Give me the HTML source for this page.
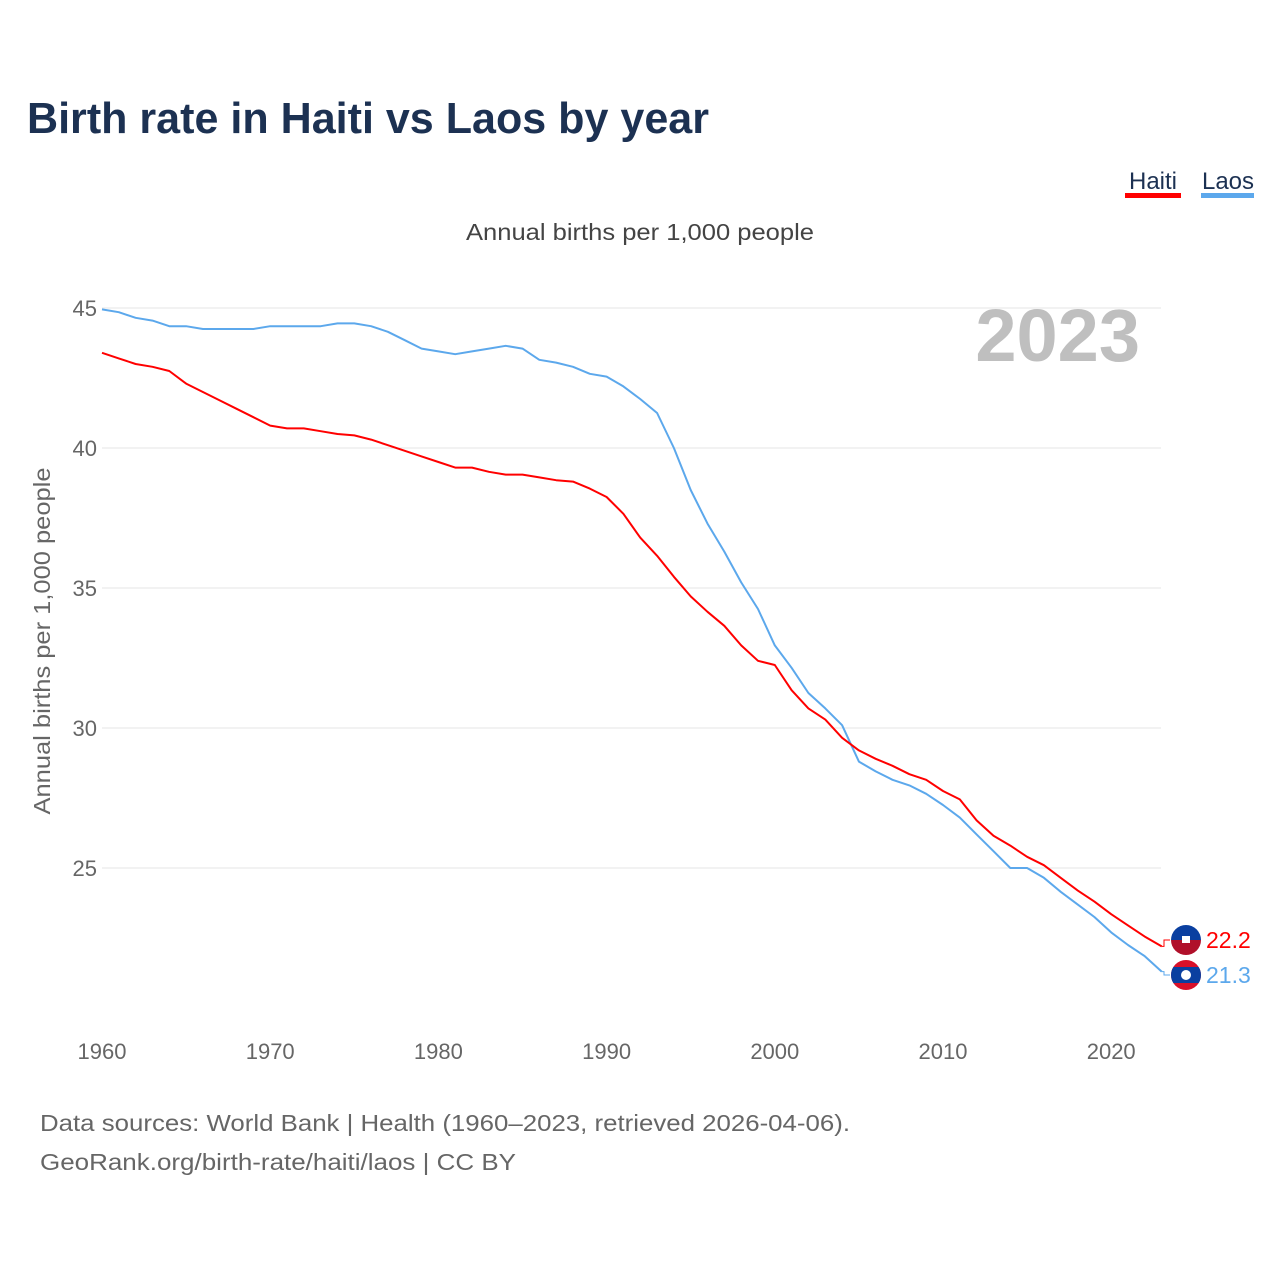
<!DOCTYPE html>
<html><head><meta charset="utf-8"><style>
body{margin:0;background:#fff;font-family:"Liberation Sans",sans-serif}
#wrap{position:relative;width:1280px;height:1280px;overflow:hidden}
</style></head><body>
<div id="wrap">
<svg id="chart" width="1280" height="1280"></svg>
</div>
<script>
const years=[];for(let y=1960;y<=2023;y++)years.push(y);
const haiti=[43.4,43.2,43.0,42.9,42.75,42.3,42.0,41.7,41.4,41.1,40.8,40.7,40.7,40.6,40.5,40.45,40.3,40.1,39.9,39.7,39.5,39.3,39.3,39.15,39.05,39.05,38.95,38.85,38.8,38.55,38.25,37.65,36.8,36.15,35.4,34.7,34.15,33.65,32.95,32.4,32.25,31.35,30.7,30.3,29.65,29.2,28.9,28.65,28.35,28.15,27.75,27.45,26.7,26.15,25.8,25.4,25.1,24.65,24.2,23.8,23.35,22.95,22.55,22.2];
const laos=[44.95,44.85,44.65,44.55,44.35,44.35,44.25,44.25,44.25,44.25,44.35,44.35,44.35,44.35,44.45,44.45,44.35,44.15,43.85,43.55,43.45,43.35,43.45,43.55,43.65,43.55,43.15,43.05,42.9,42.65,42.55,42.2,41.75,41.25,40.0,38.5,37.3,36.3,35.2,34.25,32.95,32.15,31.25,30.7,30.1,28.8,28.45,28.15,27.95,27.65,27.25,26.8,26.2,25.6,25.0,25.0,24.65,24.15,23.7,23.25,22.7,22.25,21.85,21.3];
const yTicks=[25,30,35,40,45];
const xTicks=[1960,1970,1980,1990,2000,2010,2020];
const X=y=>102+(y-1960)*16.82;
const Y=v=>308+(45-v)*28;
const NS='http://www.w3.org/2000/svg';
const svg=document.getElementById('chart');
function el(t,a,txt){const e=document.createElementNS(NS,t);for(const k in a)e.setAttribute(k,a[k]);if(txt!=null)e.textContent=txt;svg.appendChild(e);return e;}
let e;
e=el('text',{x:27,y:133,'font-size':44,'font-weight':'bold',fill:'#1c3152',textLength:682,lengthAdjust:'spacingAndGlyphs'},'Birth rate in Haiti vs Laos by year');


e=el('text',{x:466,y:240,'font-size':23,fill:'#444',textLength:348,lengthAdjust:'spacingAndGlyphs'},'Annual births per 1,000 people');


e=el('text',{x:1153,y:189,'font-size':24,fill:'#1c3152','text-anchor':'middle'},'Haiti');


el('rect',{x:1125,y:193,width:56,height:5,fill:'#ff0000'});
e=el('text',{x:1228,y:189,'font-size':24,fill:'#1c3152','text-anchor':'middle'},'Laos');


el('rect',{x:1201,y:193,width:53,height:5,fill:'#5ca8ec'});
yTicks.forEach(v=>{
 e=el('line',{x1:102,x2:1161,y1:Y(v),y2:Y(v),stroke:'#e6e6e6','stroke-width':1});
 
 
 e=el('text',{x:97,y:Y(v)+8,'font-size':22,fill:'#666','text-anchor':'end'},v);
 
 
});
xTicks.forEach(t=>{
 e=el('text',{x:X(t),y:1059,'font-size':22,fill:'#666','text-anchor':'middle'},t);
 
 
});
e=el('text',{x:0,y:0,'font-size':23,fill:'#666','text-anchor':'middle',textLength:347,lengthAdjust:'spacingAndGlyphs',transform:'translate(50,641) rotate(-90)'},'Annual births per 1,000 people');


e=el('text',{x:1140,y:361,'font-size':74,'font-weight':'bold',fill:'#bfbfbf','text-anchor':'end'},'2023');


function line(data,col,name){
 const d=data.map((v,i)=>(i?'L':'M')+X(years[i]).toFixed(1)+','+Y(v).toFixed(1)).join('');
 const p=el('path',{d:d,fill:'none',stroke:col,'stroke-width':2,'stroke-linejoin':'round'});
 
 
}
line(laos,'#5ca8ec','laos-line');
line(haiti,'#ff0000','haiti-line');
const hl=haiti[haiti.length-1],ll=laos[laos.length-1];
const hy=940,ly=975;
el('path',{d:`M${X(2023)},${Y(hl)}L1164,${Y(hl)}L1164,${hy}L1170,${hy}`,fill:'none',stroke:'#ff0000','stroke-width':1});
el('path',{d:`M${X(2023)},${Y(ll)}L1164,${Y(ll)}L1164,${ly}L1170,${ly}`,fill:'none',stroke:'#5ca8ec','stroke-width':1});
const defs=el('defs',{});
function flag(cy,kind){
 const id='c'+kind;
 const cp=document.createElementNS(NS,'clipPath');cp.setAttribute('id',id);
 const c=document.createElementNS(NS,'circle');c.setAttribute('cx',1186);c.setAttribute('cy',cy);c.setAttribute('r',15);cp.appendChild(c);defs.appendChild(cp);
 const g=el('g',{'clip-path':`url(#${id})`});
 
 
 const add=(a)=>{const r=document.createElementNS(NS,'rect');for(const k in a)r.setAttribute(k,a[k]);g.appendChild(r);};
 if(kind==='haiti'){add({x:1170,y:cy-15,width:32,height:15,fill:'#0a3fa0'});add({x:1170,y:cy,width:32,height:15,fill:'#b0102a'});add({x:1182,y:cy-4,width:8,height:7,fill:'#fff'});}
 else{add({x:1170,y:cy-15,width:32,height:30,fill:'#d8102a'});add({x:1170,y:cy-8,width:32,height:16,fill:'#0a3fa0'});const w=document.createElementNS(NS,'circle');w.setAttribute('cx',1186);w.setAttribute('cy',cy);w.setAttribute('r',5);w.setAttribute('fill','#fff');g.appendChild(w);}
}
flag(hy,'haiti');flag(ly,'laos');
e=el('text',{x:1206,y:hy+8,'font-size':23,fill:'#ff0000'},hl.toFixed(1));


e=el('text',{x:1206,y:ly+8,'font-size':23,fill:'#5ca8ec'},ll.toFixed(1));


e=el('text',{x:40,y:1131,'font-size':23,fill:'#666',textLength:810,lengthAdjust:'spacingAndGlyphs'},'Data sources: World Bank | Health (1960–2023, retrieved 2026-04-06).');


e=el('text',{x:40,y:1170,'font-size':23,fill:'#666',textLength:476,lengthAdjust:'spacingAndGlyphs'},'GeoRank.org/birth-rate/haiti/laos | CC BY');


</script>
</body></html>
